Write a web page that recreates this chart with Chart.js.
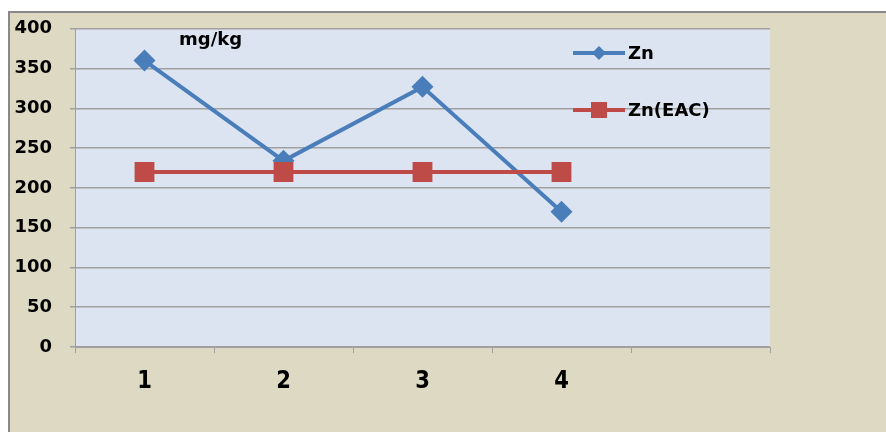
<!DOCTYPE html>
<html>
<head>
<meta charset="utf-8">
<script src="https://cdn.jsdelivr.net/npm/chart.js@4/dist/chart.umd.min.js"></script>
<style>
  html, body { margin: 0; padding: 0; background: #ffffff; }
  #wrap { width: 886px; height: 432px; position: relative; }
</style>
</head>
<body>
<div id="wrap"><canvas id="c" width="886" height="432"></canvas></div>
<script>
// Sampling points along the x axis (the fifth slot is left empty)
const categories = ['1', '2', '3', '4', ''];
// Zinc concentration, mg/kg
const znValues = [360, 234, 327, 170, null];
// Reference level Zn(EAC), mg/kg
const znEacValues = [220, 220, 220, 220, null];
const seriesNames = ['Zn', 'Zn(EAC)'];
const unitLabel = 'mg/kg';

const FONT = '"DejaVu Sans", Verdana, sans-serif';
const BEIGE = '#ddd9c3';
const PLOT_BG = '#dce4f1';
const GRID = '#a0a0a0';

// Outer panel frame and plot area fill
const backdrop = {
  id: 'backdrop',
  beforeDraw(chart) {
    const { ctx, chartArea: a } = chart;
    ctx.save();
    ctx.fillStyle = '#ffffff';
    ctx.fillRect(0, 0, chart.width, chart.height);
    ctx.fillStyle = BEIGE;
    ctx.fillRect(9, 12, chart.width - 9, chart.height - 12);
    ctx.strokeStyle = '#888888';
    ctx.lineWidth = 2;
    ctx.beginPath();
    ctx.moveTo(9, chart.height);
    ctx.lineTo(9, 12);
    ctx.lineTo(chart.width, 12);
    ctx.stroke();
    ctx.fillStyle = PLOT_BG;
    ctx.fillRect(a.left, a.top, a.right - a.left, a.bottom - a.top);
    ctx.restore();
  }
};

// Slightly condensed category labels, placed at the x scale's own tick positions
const categoryLabels = {
  id: 'categoryLabels',
  afterDraw(chart) {
    const { ctx } = chart;
    const xs = chart.scales.x;
    const sx = 0.88;
    ctx.save();
    ctx.fillStyle = '#000000';
    ctx.font = 'bold 24px ' + FONT;
    ctx.textAlign = 'center';
    ctx.textBaseline = 'middle';
    ctx.scale(sx, 1);
    categories.forEach((c, i) => {
      if (!c) return;
      ctx.fillText(c, xs.getPixelForValue(i) / sx, 382);
    });
    ctx.restore();
  }
};

// Unit caption and legend drawn inside the plot area
const overlay = {
  id: 'overlay',
  afterDatasetsDraw(chart) {
    const { ctx } = chart;
    ctx.save();
    ctx.fillStyle = '#000000';
    ctx.font = 'bold 18px ' + FONT;
    ctx.textAlign = 'left';
    ctx.textBaseline = 'middle';
    ctx.fillText(unitLabel, 179, 40);

    const rows = [53, 110];
    chart.data.datasets.forEach((ds, i) => {
      const y = rows[i];
      ctx.strokeStyle = ds.borderColor;
      ctx.lineWidth = 4;
      ctx.beginPath();
      ctx.moveTo(573, y);
      ctx.lineTo(625, y);
      ctx.stroke();
      ctx.fillStyle = ds.pointBackgroundColor;
      ctx.beginPath();
      if (ds.pointStyle === 'rectRot') {
        const r = 7;
        ctx.moveTo(599, y - r); ctx.lineTo(599 + r, y);
        ctx.lineTo(599, y + r); ctx.lineTo(599 - r, y);
        ctx.closePath();
      } else {
        const r = 8;
        ctx.rect(599 - r, y - r, 2 * r, 2 * r);
      }
      ctx.fill();
      ctx.fillStyle = '#000000';
      ctx.font = 'bold 18px ' + FONT;
      ctx.fillText(ds.label, 628, y + 1);
    });
    ctx.restore();
  }
};

new Chart(document.getElementById('c'), {
  type: 'line',
  data: {
    labels: categories,
    datasets: [
      {
        label: seriesNames[0],
        data: znValues,
        borderColor: '#4a7ebb',
        backgroundColor: '#4a7ebb',
        pointBackgroundColor: '#4a7ebb',
        pointBorderColor: '#4a7ebb',
        borderWidth: 4,
        pointStyle: 'rectRot',
        pointRadius: 11,
        pointBorderWidth: 0,
        tension: 0,
        order: 1
      },
      {
        label: seriesNames[1],
        data: znEacValues,
        borderColor: '#be4b48',
        backgroundColor: '#be4b48',
        pointBackgroundColor: '#be4b48',
        pointBorderColor: '#be4b48',
        borderWidth: 4,
        pointStyle: 'rect',
        pointRadius: 14,
        pointBorderWidth: 0,
        tension: 0,
        order: 0
      }
    ]
  },
  options: {
    responsive: false,
    animation: false,
    devicePixelRatio: 1,
    layout: { padding: { left: 0, top: 28, right: 116, bottom: 0 } },
    plugins: {
      legend: { display: false },
      title: { display: false },
      tooltip: { enabled: false }
    },
    scales: {
      x: {
        offset: true,
        afterFit(scale) { scale.height = 85; },
        grid: {
          offset: true,
          drawOnChartArea: false,
          drawTicks: true,
          tickLength: 6,
          color: GRID,
          lineWidth: 1
        },
        border: { display: true, color: GRID, width: 1 },
        ticks: {
          display: false,
          autoSkip: false
        }
      },
      y: {
        min: 0,
        max: 400,
        afterFit(scale) { scale.width = 75; },
        grid: {
          color: GRID,
          lineWidth: 1.5,
          drawTicks: true,
          tickLength: 5
        },
        border: { display: true, color: GRID, width: 1 },
        ticks: {
          stepSize: 50,
          color: '#000000',
          font: { family: FONT, size: 18, weight: 'bold' },
          padding: 18
        }
      }
    }
  },
  plugins: [backdrop, categoryLabels, overlay]
});
</script>
</body>
</html>
